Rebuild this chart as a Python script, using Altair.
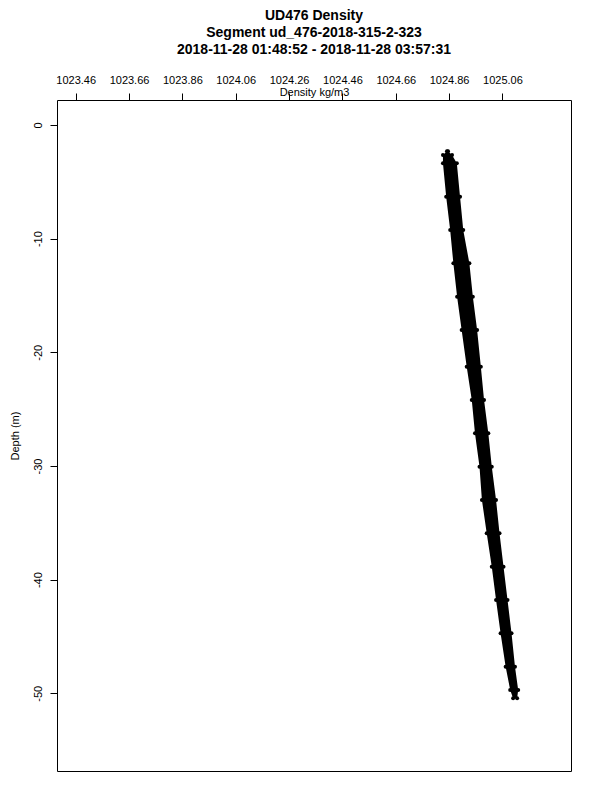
import altair as alt
import pandas as pd

# Profile band: depth (m) with left / right edge of the band (kg/m3)
depth = [-2.30, -2.64, -3.37, -6.31, -9.24, -12.17, -15.11, -18.04, -21.27, -24.19,
         -27.12, -30.06, -32.99, -35.92, -38.86, -41.79, -44.72, -47.66, -49.71, -50.44]
density_left = [1024.852, 1024.837, 1024.837, 1024.849, 1024.864, 1024.876, 1024.890, 1024.907,
                1024.926, 1024.945, 1024.957, 1024.974, 1024.983, 1025.001, 1025.020, 1025.036,
                1025.053, 1025.072, 1025.089, 1025.100]
density_right = [1024.856, 1024.871, 1024.889, 1024.901, 1024.913, 1024.936, 1024.949, 1024.965,
                 1024.979, 1024.991, 1025.007, 1025.020, 1025.036, 1025.049, 1025.064, 1025.079,
                 1025.094, 1025.107, 1025.119, 1025.115]

x_labels = ["1023.46", "1023.66", "1023.86", "1024.06", "1024.26", "1024.46", "1024.66", "1024.86", "1025.06"]
x_ticks = [round(1023.46 + 0.05 * k, 2) for k in range(36)]
y_ticks = [0, -10, -20, -30, -40, -50]

title_lines = ["UD476 Density", "Segment ud_476-2018-315-2-323", "2018-11-28 01:48:52 - 2018-11-28 03:57:31"]

df = pd.DataFrame({"depth": depth, "left": density_left, "right": density_right})

FONT = "Liberation Sans"
W, H = 514, 671

label_list = "[" + ",".join("'" + s + "'" for s in x_labels) + "]"

x_scale = alt.Scale(domain=[1023.39, 1025.317], nice=False, zero=False)
y_scale = alt.Scale(domain=[-56.84, 2.2], nice=False, zero=False)

band = alt.Chart(df).mark_area(orient="horizontal", color="black").encode(
    y=alt.Y("depth:Q", scale=y_scale,
            axis=alt.Axis(values=y_ticks, orient="left", domain=False, grid=False,
                          tickColor="black", tickSize=7, tickWidth=1,
                          labelAngle=270, labelAlign="center", labelBaseline="bottom",
                          labelPadding=7, labelFont=FONT, labelFontSize=11, labelColor="black",
                          labelExpr="datum.value + ''",
                          title="Depth (m)", titleFont=FONT, titleFontSize=11,
                          titleFontWeight="normal", titleColor="black",
                          titleAngle=270, titleAlign="center", titleBaseline="middle",
                          titleX=-42, titleY=H / 2)),
    x=alt.X("left:Q", scale=x_scale,
            axis=alt.Axis(values=x_ticks, orient="top", domain=False, grid=False,
                          tickColor="black", tickSize=7, tickWidth=1,
                          labelOverlap=False, labelFlush=False,
                          labelExpr="indexof(" + label_list + ", format(datum.value, '.2f')) >= 0 ? format(datum.value, '.2f') : ''",
                          labelPadding=8, labelFont=FONT, labelFontSize=11, labelColor="black",
                          title="Density kg/m3", titleFont=FONT, titleFontSize=11,
                          titleFontWeight="normal", titleColor="black",
                          titleAlign="center", titleBaseline="middle",
                          titleX=W / 2, titleY=-8)),
    x2="right:Q",
)

edges = alt.Chart(df).transform_fold(["left", "right"], as_=["side", "dens"]).mark_point(
    filled=True, color="black", opacity=1, size=16, shape="circle"
).encode(
    x=alt.X("dens:Q", scale=x_scale),
    y=alt.Y("depth:Q", scale=y_scale),
)

chart = alt.layer(band, edges).properties(
    width=W, height=H,
    autosize=alt.AutoSizeParams(type="none"),
    padding={"left": 49, "top": 92, "right": 21, "bottom": 21},
    title=alt.Title(title_lines, fontSize=14, fontWeight="bold", font=FONT, color="black",
                    lineHeight=17, anchor="middle", offset=17),
    background="white",
).configure_view(stroke="black", strokeWidth=1, fill="white")

chart.save("out.html", embed_options={"renderer": "svg", "actions": False})
